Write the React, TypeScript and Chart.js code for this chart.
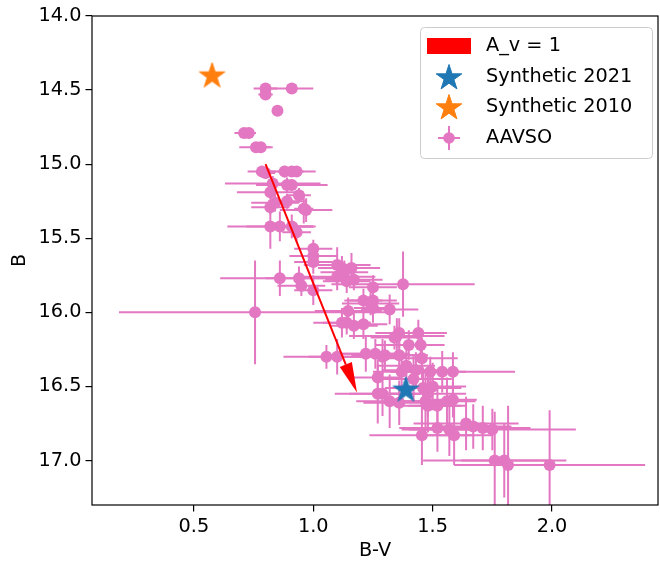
import React, { useEffect, useRef } from 'react';
import { Chart, registerables } from 'chart.js';
Chart.register(...registerables);

const xTicks = [0.5, 1.0, 1.5, 2.0];
const yTicks = [14.0, 14.5, 15.0, 15.5, 16.0, 16.5, 17.0];
const xRange = [0.073, 2.444];
const yRange = [14.0, 17.3];

const aavsoBV = [
  0.80, 0.80, 0.91, 0.85, 0.71, 0.73, 0.76, 0.78, 0.785, 0.80,
  0.88, 0.91, 0.93, 0.83, 0.89, 0.91, 0.82, 0.94, 0.84, 0.89,
  0.82, 0.97, 0.96, 0.82, 0.86, 0.91, 0.93, 1.00, 1.00, 1.00,
  0.86, 0.94, 0.95, 1.00, 0.756, 1.10, 1.12, 1.16, 1.10, 1.13,
  1.14, 1.17, 1.25, 1.376, 1.21, 1.25, 1.25, 1.24, 1.32, 1.146,
  1.12, 1.14, 1.17, 1.21, 1.35, 1.36, 1.44, 1.40, 1.45, 1.055,
  1.10, 1.22, 1.26, 1.29, 1.30, 1.36, 1.455, 1.37, 1.43, 1.49,
  1.54, 1.585, 1.27, 1.27, 1.29, 1.46, 1.48, 1.47, 1.32, 1.36,
  1.48, 1.52, 1.56, 1.585, 1.64, 1.67, 1.71, 1.75, 1.52, 1.57,
  1.455, 1.59, 1.76, 1.80, 1.816, 1.99, 1.34, 1.39, 1.42, 1.50,
];
const aavsoB = [
  14.49, 14.53, 14.49, 14.64, 14.79, 14.79, 14.885, 14.885, 15.05, 15.06,
  15.05, 15.05, 15.05, 15.13, 15.14, 15.14, 15.19, 15.21, 15.26, 15.25,
  15.29, 15.31, 15.30, 15.42, 15.42, 15.42, 15.46, 15.57, 15.62, 15.66,
  15.77, 15.77, 15.82, 15.85, 16.00, 15.68, 15.70, 15.70, 15.76, 15.73,
  15.79, 15.78, 15.83, 15.81, 15.92, 15.92, 15.97, 15.94, 15.98, 15.99,
  16.07, 16.07, 16.09, 16.08, 16.16, 16.14, 16.14, 16.22, 16.22, 16.30,
  16.30, 16.28, 16.28, 16.30, 16.29, 16.29, 16.31, 16.40, 16.39, 16.40,
  16.40, 16.40, 16.44, 16.55, 16.55, 16.51, 16.55, 16.60, 16.60, 16.61,
  16.63, 16.63, 16.60, 16.59, 16.75, 16.77, 16.78, 16.79, 16.78, 16.79,
  16.83, 16.83, 17.00, 17.00, 17.03, 17.03, 16.17, 16.36, 16.45, 16.50,
];
const aavsoBVErr = [
  0.05, 0.03, 0.09, 0.02, 0.04, 0.03, 0.07, 0.04, 0.06, 0.04,
  0.06, 0.05, 0.08, 0.20, 0.12, 0.15, 0.14, 0.05, 0.10, 0.08,
  0.08, 0.11, 0.04, 0.18, 0.14, 0.10, 0.06, 0.08, 0.10, 0.08,
  0.25, 0.14, 0.10, 0.08, 0.57, 0.14, 0.10, 0.12, 0.16, 0.10,
  0.10, 0.12, 0.10, 0.30, 0.08, 0.10, 0.08, 0.12, 0.12, 0.14,
  0.12, 0.10, 0.10, 0.10, 0.20, 0.10, 0.12, 0.14, 0.10, 0.18,
  0.12, 0.12, 0.14, 0.10, 0.14, 0.12, 0.15, 0.12, 0.14, 0.12,
  0.10, 0.26, 0.10, 0.18, 0.14, 0.16, 0.16, 0.14, 0.14, 0.15,
  0.14, 0.12, 0.12, 0.10, 0.22, 0.16, 0.20, 0.35, 0.16, 0.20,
  0.22, 0.16, 0.30, 0.18, 0.22, 0.40, 0.10, 0.12, 0.16, 0.14,
];
const aavsoBErr = [
  0.02, 0.02, 0.03, 0.02, 0.02, 0.02, 0.03, 0.03, 0.03, 0.04,
  0.04, 0.03, 0.03, 0.05, 0.05, 0.04, 0.05, 0.05, 0.06, 0.05,
  0.05, 0.08, 0.10, 0.15, 0.10, 0.08, 0.06, 0.06, 0.07, 0.08,
  0.12, 0.08, 0.07, 0.10, 0.35, 0.12, 0.08, 0.10, 0.09, 0.08,
  0.08, 0.07, 0.08, 0.22, 0.08, 0.06, 0.10, 0.08, 0.10, 0.09,
  0.10, 0.08, 0.09, 0.10, 0.12, 0.10, 0.09, 0.10, 0.10, 0.08,
  0.12, 0.12, 0.10, 0.12, 0.10, 0.12, 0.14, 0.10, 0.12, 0.10,
  0.14, 0.13, 0.12, 0.20, 0.15, 0.14, 0.15, 0.20, 0.18, 0.15,
  0.18, 0.14, 0.16, 0.12, 0.18, 0.15, 0.15, 0.14, 0.16, 0.18,
  0.20, 0.20, 0.33, 0.25, 0.40, 0.37, 0.08, 0.14, 0.16, 0.16,
];

const synth2021 = { bv: 1.388, b: 16.525 };
const synth2010 = { bv: 0.576, b: 14.405 };
const arrowStart = { bv: 0.80, b: 15.0 };
const arrowEnd = { bv: 1.183, b: 16.54 };

const legendLabels = ['A_v = 1', 'Synthetic 2021', 'Synthetic 2010', 'AAVSO'];

const PINK = '#e377c2';
const BLUE = '#1f77b4';
const ORANGE = '#ff7f0e';
const RED = '#ff0000';
const FONT = '"DejaVu Sans", sans-serif';
const FS = 19.3;

function starPath(ctx: CanvasRenderingContext2D, cx: number, cy: number, r: number) {
  const ri = r * 0.382;
  ctx.beginPath();
  for (let i = 0; i < 10; i++) {
    const a = -Math.PI / 2 + (i * Math.PI) / 5;
    const rr = i % 2 === 0 ? r : ri;
    ctx.lineTo(cx + rr * Math.cos(a), cy + rr * Math.sin(a));
  }
  ctx.closePath();
}

function drawStar(ctx: CanvasRenderingContext2D, cx: number, cy: number, r: number, color: string) {
  starPath(ctx, cx, cy, r);
  ctx.fillStyle = color;
  ctx.fill();
  ctx.strokeStyle = color;
  ctx.lineWidth = 1;
  ctx.stroke();
}

function makeStar(color: string, r: number) {
  const c = document.createElement('canvas');
  const s = Math.ceil(r * 2 + 4);
  c.width = s;
  c.height = s;
  const ctx = c.getContext('2d')!;
  drawStar(ctx, s / 2, s / 2, r, color);
  return c;
}

const errorBarPlugin = {
  id: 'errorBars',
  beforeDatasetsDraw(chart: any) {
    const { ctx, chartArea, scales } = chart;
    const x = scales.x, y = scales.y;
    ctx.save();
    ctx.beginPath();
    ctx.rect(chartArea.left, chartArea.top, chartArea.right - chartArea.left, chartArea.bottom - chartArea.top);
    ctx.clip();
    ctx.strokeStyle = PINK;
    ctx.lineWidth = 2;
    aavsoBV.forEach((bv, i) => {
      const b = aavsoB[i];
      const px = x.getPixelForValue(bv);
      const py = y.getPixelForValue(b);
      const x0 = x.getPixelForValue(bv - aavsoBVErr[i]);
      const x1 = x.getPixelForValue(bv + aavsoBVErr[i]);
      const y0 = y.getPixelForValue(b - aavsoBErr[i]);
      const y1 = y.getPixelForValue(b + aavsoBErr[i]);
      ctx.beginPath();
      ctx.moveTo(x0, py);
      ctx.lineTo(x1, py);
      ctx.moveTo(px, y0);
      ctx.lineTo(px, y1);
      ctx.stroke();
    });
    ctx.restore();
  },
};

const arrowPlugin = {
  id: 'arrowAndFrame',
  afterDatasetsDraw(chart: any) {
    const { ctx, chartArea, scales } = chart;
    const x = scales.x, y = scales.y;
    const x0 = x.getPixelForValue(arrowStart.bv);
    const y0 = y.getPixelForValue(arrowStart.b);
    const x1 = x.getPixelForValue(arrowEnd.bv);
    const y1 = y.getPixelForValue(arrowEnd.b);
    const len = Math.hypot(x1 - x0, y1 - y0);
    const ux = (x1 - x0) / len, uy = (y1 - y0) / len;
    const headLen = 30, headHalf = 6.5;
    const bx = x1 - ux * headLen, by = y1 - uy * headLen;
    ctx.save();
    ctx.strokeStyle = RED;
    ctx.fillStyle = RED;
    ctx.lineWidth = 2;
    ctx.beginPath();
    ctx.moveTo(x0, y0);
    ctx.lineTo(bx, by);
    ctx.stroke();
    ctx.beginPath();
    ctx.moveTo(x1, y1);
    ctx.lineTo(bx - uy * headHalf, by + ux * headHalf);
    ctx.lineTo(bx + uy * headHalf, by - ux * headHalf);
    ctx.closePath();
    ctx.fill();
    ctx.restore();

    ctx.save();
    ctx.strokeStyle = '#000';
    ctx.lineWidth = 1.2;
    ctx.strokeRect(chartArea.left, chartArea.top, chartArea.right - chartArea.left, chartArea.bottom - chartArea.top);
    ctx.restore();
  },
  afterDraw(chart: any) {
    const { ctx, chartArea } = chart;
    const w = 232, h = 131;
    const left = chartArea.right - 6 - w;
    const top = chartArea.top + 11;
    ctx.save();
    ctx.beginPath();
    (ctx as any).roundRect(left + 0.5, top + 0.5, w, h, 4);
    ctx.fillStyle = 'rgba(255,255,255,0.8)';
    ctx.fill();
    ctx.strokeStyle = '#cccccc';
    ctx.lineWidth = 1;
    ctx.stroke();

    const mx = left + 29;
    const tx = left + 66;
    const rows = [19, 50, 80, 111].map((d) => top + d);
    ctx.fillStyle = RED;
    ctx.fillRect(left + 7, rows[0] - 8, 44, 16);
    drawStar(ctx, mx, rows[1] + 1, 13.5, BLUE);
    drawStar(ctx, mx, rows[2] + 1, 13.5, ORANGE);
    ctx.strokeStyle = PINK;
    ctx.lineWidth = 2;
    ctx.beginPath();
    ctx.moveTo(mx - 11, rows[3]);
    ctx.lineTo(mx + 11, rows[3]);
    ctx.moveTo(mx, rows[3] - 12);
    ctx.lineTo(mx, rows[3] + 12);
    ctx.stroke();
    ctx.fillStyle = PINK;
    ctx.beginPath();
    ctx.arc(mx, rows[3], 5.8, 0, Math.PI * 2);
    ctx.fill();

    ctx.fillStyle = '#000';
    ctx.font = `${FS}px ${FONT}`;
    ctx.textAlign = 'left';
    ctx.textBaseline = 'middle';
    legendLabels.forEach((t, i) => ctx.fillText(t, tx, rows[i]));
    ctx.restore();
  },
};

export default function App() {
  const ref = useRef<HTMLCanvasElement | null>(null);
  useEffect(() => {
    const canvas = ref.current!;
    const tickFont = { family: FONT, size: FS };
    const chart = new Chart(canvas, {
      type: 'scatter',
      data: {
        datasets: [
          {
            label: legendLabels[1],
            data: [{ x: synth2021.bv, y: synth2021.b }],
            pointStyle: makeStar(BLUE, 13.5) as any,
            pointRadius: 14,
          },
          {
            label: legendLabels[2],
            data: [{ x: synth2010.bv, y: synth2010.b }],
            pointStyle: makeStar(ORANGE, 13.5) as any,
            pointRadius: 14,
          },
          {
            label: legendLabels[3],
            data: aavsoBV.map((bv, i) => ({ x: bv, y: aavsoB[i] })),
            backgroundColor: PINK,
            borderColor: PINK,
            borderWidth: 0,
            pointRadius: 6,
          },
        ],
      },
      options: {
        animation: false,
        responsive: false,
        devicePixelRatio: 1,
        layout: { autoPadding: false, padding: { top: 16, right: 2, left: 0, bottom: 0 } },
        plugins: { legend: { display: false }, tooltip: { enabled: false } },
        events: [],
        scales: {
          x: {
            type: 'linear',
            min: xRange[0],
            max: xRange[1],
            afterBuildTicks: (s: any) => { s.ticks = xTicks.map((v) => ({ value: v })); },
            afterFit: (s: any) => { s.height = 58; s.paddingLeft = 0; s.paddingRight = 0; },
            ticks: { font: tickFont, color: '#000', padding: 4, callback: (v: any) => Number(v).toFixed(1) },
            grid: { drawOnChartArea: false, tickLength: 6.5, color: '#000', lineWidth: 1.2 },
            border: { display: false },
            title: { display: true, text: 'B-V', font: tickFont, color: '#000', padding: { top: 0, bottom: 0 } },
          },
          y: {
            type: 'linear',
            reverse: true,
            min: yRange[0],
            max: yRange[1],
            afterBuildTicks: (s: any) => { s.ticks = yTicks.map((v) => ({ value: v })); },
            afterFit: (s: any) => { s.width = 92; s.paddingTop = 0; s.paddingBottom = 0; },
            ticks: { font: tickFont, color: '#000', padding: 4, callback: (v: any) => Number(v).toFixed(1) },
            grid: { drawOnChartArea: false, tickLength: 6.5, color: '#000', lineWidth: 1.2 },
            border: { display: false },
            title: { display: true, text: 'B', font: tickFont, color: '#000', padding: { top: 8, bottom: 0 } },
          },
        },
      },
      plugins: [errorBarPlugin, arrowPlugin],
    } as any);
    return () => chart.destroy();
  }, []);
  return (
    <div style={{ position: 'fixed', left: 0, top: 0, width: 660, height: 563, background: '#fff' }}>
      <canvas ref={ref} width={660} height={563} style={{ display: 'block' }} />
    </div>
  );
}
